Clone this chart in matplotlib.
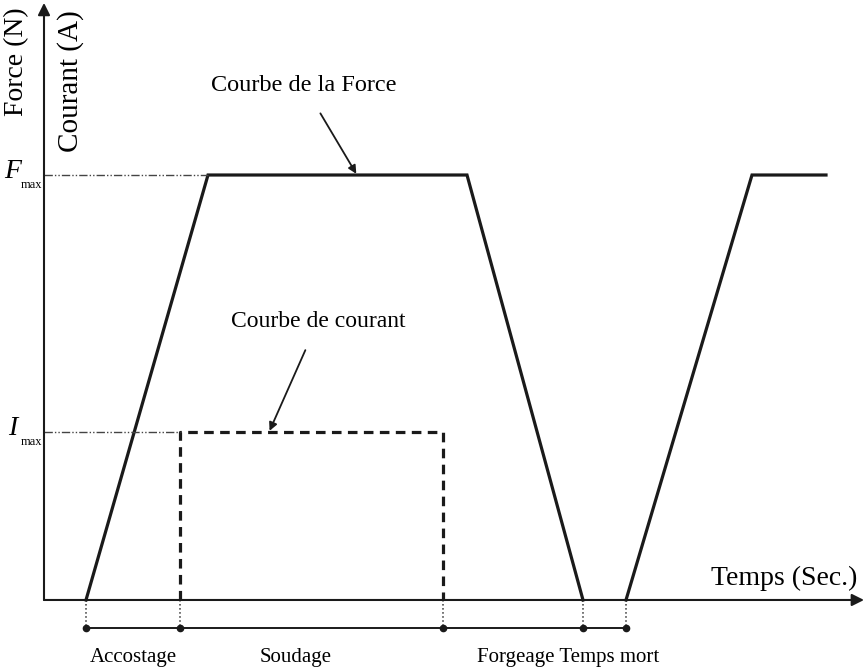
import matplotlib.pyplot as plt

plt.rcParams['font.family'] = ['Liberation Serif', 'DejaVu Serif']

# Force cycle (arbitrary time units, force normalised to Fmax = 1)
t_force = [0.42, 1.64, 4.23, 5.39]
f_force = [0.0, 1.0, 1.0, 0.0]
t_next = [5.82, 7.08, 7.82]
f_next = [0.0, 1.0, 1.0]

# Current pulse during welding
i_max = 0.395
t_cur = [1.36, 1.36, 3.99, 3.99]
i_cur = [0.0, i_max, i_max, 0.0]

# Phase boundaries and names
t_phase = [0.42, 1.36, 3.99, 5.39, 5.82]
phase_names = ['Accostage', 'Soudage', 'Forgeage Temps mort']
phase_pos = [0.89, 2.52, 5.24]

fig = plt.figure(figsize=(8.66, 6.69), dpi=100)
ax = fig.add_axes([0, 0, 1, 1])
ax.set_xlim(-0.44, 8.22)
ax.set_ylim(-0.1624, 1.4118)
ax.axis('off')

ink = '#1a1a1a'
lw = 2.3
ax.plot(t_force, f_force, color=ink, lw=lw, solid_joinstyle='miter')
ax.plot(t_next, f_next, color=ink, lw=lw, solid_joinstyle='miter')
ax.plot(t_cur, i_cur, color=ink, lw=lw, ls=(0, (3, 2.0)))

# reference levels
dashdot = (0, (6, 1.5, 1, 1.5, 1, 1.5))
ax.plot([0, t_force[1]], [1.0, 1.0], color='#444', lw=1.0, ls=dashdot)
ax.plot([0, t_cur[0]], [i_max, i_max], color='#444', lw=1.0, ls=dashdot)

# axes with arrows
ax.annotate('', xy=(8.2, 0), xytext=(0, 0),
            arrowprops=dict(arrowstyle='-|>', color=ink, lw=1.5, mutation_scale=18,
                            shrinkA=0, shrinkB=0))
ax.annotate('', xy=(0, 1.405), xytext=(0, 0),
            arrowprops=dict(arrowstyle='-|>', color=ink, lw=1.5, mutation_scale=18,
                            shrinkA=0, shrinkB=0))

# phase timeline below the axis
y_line = -0.066
for t in t_phase:
    ax.plot([t, t], [0, y_line], color='#333', lw=1.1, ls=':')
ax.plot([t_phase[0], t_phase[-1]], [y_line, y_line], color=ink, lw=1.4)
ax.plot(t_phase, [y_line] * len(t_phase), 'o', color=ink, markersize=4.5)
for name, x in zip(phase_names, phase_pos):
    ax.text(x, -0.135, name, ha='center', va='center', fontsize=15)

ax.text(7.4, 0.05, 'Temps (Sec.)', ha='center', va='center', fontsize=20)
ax.text(-0.27, 1.266, 'Force (N)', rotation=90, ha='center', va='center', fontsize=20)
ax.text(0.27, 1.222, 'Courant (A)', rotation=90, ha='center', va='center', fontsize=21)

# level labels: italic symbol with a small subscript
for sym, lvl in [('F', 1.0), ('I', i_max)]:
    ax.text(-0.31, lvl + 0.008, sym, ha='center', va='center', fontsize=20, style='italic')
    ax.text(-0.125, lvl - 0.024, 'max', ha='center', va='center', fontsize=9)

ax.annotate('Courbe de la Force', xy=(3.13, 1.0), xytext=(2.6, 1.21),
            ha='center', va='center', fontsize=17.5,
            arrowprops=dict(arrowstyle='-|>', color=ink, lw=1.3,
                            mutation_scale=12, shrinkA=12, shrinkB=1))
ax.annotate('Courbe de courant', xy=(2.25, i_max), xytext=(2.74, 0.655),
            ha='center', va='center', fontsize=17,
            arrowprops=dict(arrowstyle='-|>', color=ink, lw=1.3,
                            mutation_scale=12, shrinkA=12, shrinkB=1))

fig.savefig('out.png', dpi=100)
